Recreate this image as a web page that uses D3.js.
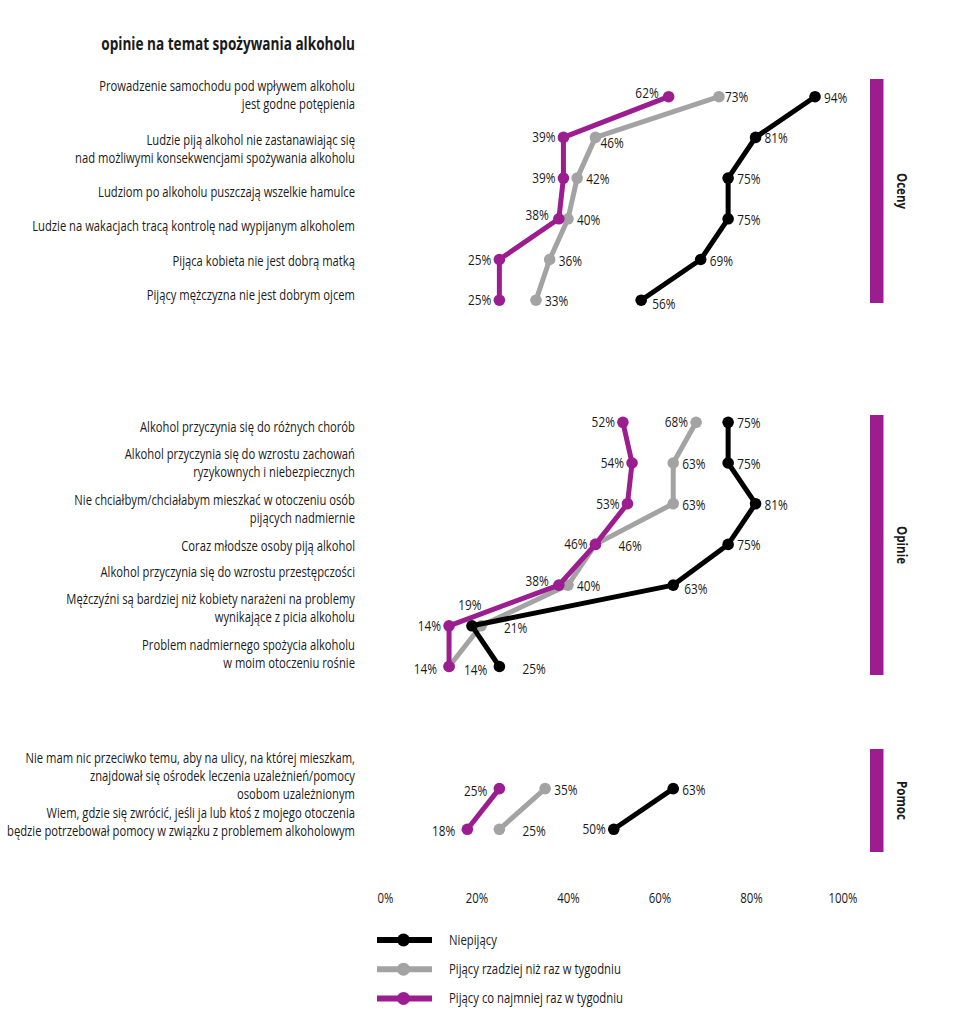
<!DOCTYPE html>
<html><head><meta charset="utf-8">
<script src="https://cdn.jsdelivr.net/npm/d3@7"></script>
<style>
body{margin:0;background:#fff;}
svg text{fill:#1a1a1a;}
</style></head>
<body><div id="chart"></div>
<script>
// ---- data ----
const title = "opinie na temat spożywania alkoholu";
const sections = ["Oceny", "Opinie", "Pomoc"];
const categories = [
  "Prowadzenie samochodu pod wpływem alkoholu\njest godne potępienia",
  "Ludzie piją alkohol nie zastanawiając się\nnad możliwymi konsekwencjami spożywania alkoholu",
  "Ludziom po alkoholu puszczają wszelkie hamulce",
  "Ludzie na wakacjach tracą kontrolę nad wypijanym alkoholem",
  "Pijąca kobieta nie jest dobrą matką",
  "Pijący mężczyzna nie jest dobrym ojcem",
  "Alkohol przyczynia się do różnych chorób",
  "Alkohol przyczynia się do wzrostu zachowań\nryzykownych i niebezpiecznych",
  "Nie chciałbym/chciałabym mieszkać w otoczeniu osób\npijących nadmiernie",
  "Coraz młodsze osoby piją alkohol",
  "Alkohol przyczynia się do wzrostu przestępczości",
  "Mężczyźni są bardziej niż kobiety narażeni na problemy\nwynikające z picia alkoholu",
  "Problem nadmiernego spożycia alkoholu\nw moim otoczeniu rośnie",
  "Nie mam nic przeciwko temu, aby na ulicy, na której mieszkam,\nznajdował się ośrodek leczenia  uzależnień/pomocy\nosobom uzależnionym",
  "Wiem, gdzie się zwrócić, jeśli ja lub ktoś z mojego otoczenia\nbędzie potrzebował pomocy w związku z problemem alkoholowym"
];
const categorySection = ["Oceny","Oceny","Oceny","Oceny","Oceny","Oceny",
  "Opinie","Opinie","Opinie","Opinie","Opinie","Opinie","Opinie","Pomoc","Pomoc"];
const seriesNames = ["Niepijący", "Pijący rzadziej niż raz w tygodniu", "Pijący co najmniej raz w tygodniu"];
const nonDrinkers = [94,81,75,75,69,56, 75,75,81,75,63,19,25, 63,50];
const rareDrinkers = [73,46,42,40,36,33, 68,63,63,46,40,21,14, 35,25];
const weeklyDrinkers = [62,39,39,38,25,25, 52,54,53,46,38,14,14, 25,18];
const xTicks = [0,20,40,60,80,100];

// ---- layout (annotation placement) ----
const nonLabelPos = ["r","r","r","r","r","rd", "r","r","r","r","rd","u","r2", "r","l"];
const rareLabelPos = ["rn","rdn","r","r","r","r", "l","r","r","r2","r","r2","r3", "r","r2"];
const weeklyLabelPos = ["lu","l","l","lu","l","l", "l","l","l","l","lu","l","l2", "l2","l2"];
const labelNudge = [-1,13,15,8,2,-4, 6,1,6,3,-12,-17,-12, -12,-6];

const W = 955, H = 1024;
const FONT = '"Open Sans","Noto Sans",sans-serif';
const colors = ["#000000", "#a3a3a3", "#9c1d90"];
const svg = d3.select("#chart").append("svg").attr("width", W).attr("height", H)
  .style("font-family", FONT);

function measure(str, size, weight) {
  const t = svg.append("text").attr("font-size", size).attr("font-weight", weight).text(str);
  const w = t.node().getComputedTextLength(); t.remove(); return w;
}
const sxLabel = 323 / measure("Ludzie na wakacjach tracą kontrolę nad wypijanym alkoholem", 14, "normal");
const sxTitle = 254 / measure(title, 18, "bold");
const sxData = 23.3 / measure("94%", 14.5, "normal");
const sxLegend = 172 / measure("Pijący rzadziej niż raz w tygodniu", 14, "normal");
const sxSection = 38 / measure("Opinie", 14.5, "bold");

function addText(parent, x, y, str, o) {
  const g = parent.append("g")
    .attr("transform", `translate(${x},${y})${o.rotate ? ` rotate(${o.rotate})` : ""} scale(${o.sx},1)`);
  return g.append("text").attr("x", 0).attr("y", 0)
    .attr("text-anchor", o.anchor || "start").attr("font-size", o.size)
    .attr("font-weight", o.weight || "normal").text(str);
}

const x = d3.scaleLinear().domain([0,100]).range([385, 842.5]);
const rowIndex = categories.map((c,i) => i + 2*sections.indexOf(categorySection[i]));
const y = d3.scaleLinear().domain([0,18]).range([96.7, 829.3]);

// title
addText(svg, 355, 50, title, {sx: sxTitle, size: 18, weight: "bold", anchor: "end"});

// category labels
categories.forEach((c,i) => {
  const lines = c.split("\n");
  const lh = 18;
  const cy = y(rowIndex[i]) + labelNudge[i];
  lines.forEach((ln, k) => {
    addText(svg, 355, cy + (k - (lines.length-1)/2)*lh + 4, ln, {sx: sxLabel, size: 14, anchor: "end"});
  });
});

// section bars
const barExtent = {Oceny:[79,303], Opinie:[415,675], Pomoc:[749,852]};
sections.forEach(s => {
  const [a,b] = barExtent[s];
  svg.append("rect").attr("x", 870).attr("y", a).attr("width", 13.5).attr("height", b-a).attr("fill", colors[2]);
  addText(svg, 897, (a+b)/2, s, {sx: sxSection, size: 14.5, weight: "bold", anchor: "middle", rotate: 90});
});

// axis tick labels
const axisG = svg.append("g").attr("transform","translate(0,903)");
axisG.call(d3.axisBottom(x).tickValues(xTicks).tickFormat(d => d + "%").tickSize(0));
axisG.select(".domain").remove();
axisG.attr("font-family", null);
axisG.selectAll(".tick text").attr("y", 0).attr("dy", 0)
  .attr("font-size", 14).attr("transform", `scale(${sxData},1)`).style("fill", "#1a1a1a");

// series
const offsets = {
  r:[9,1,"start"], rn:[6,0,"start"], rd:[11,4,"start"], rdn:[5,6,"start"],
  r2:[23,2,"start"], r3:[15,3,"start"],
  l:[-8,0,"end"], lu:[-10,-4,"end"], l2:[-12,2,"end"],
  u:[-2,-21,"middle"]
};
const allSeries = [nonDrinkers, rareDrinkers, weeklyDrinkers];
const allPos = [nonLabelPos, rareLabelPos, weeklyLabelPos];
const line = d3.line().x(d => x(d.v)).y(d => y(d.r));

[1,0,2].forEach(si => {
  const vals = allSeries[si];
  const g = svg.append("g");
  sections.forEach(s => {
    const pts = vals.map((v,i) => ({v, r: rowIndex[i], s: categorySection[i]})).filter(d => d.s === s);
    g.append("path").datum(pts).attr("d", line).attr("fill","none")
      .attr("stroke", colors[si]).attr("stroke-width", 5).attr("stroke-linejoin","round");
  });
  g.selectAll("circle").data(vals.map((v,i)=>({v, r: rowIndex[i]}))).join("circle")
    .attr("cx", d => x(d.v)).attr("cy", d => y(d.r)).attr("r", 5.8).attr("fill", colors[si]);
});
[0,1,2].forEach(si => {
  allSeries[si].forEach((v,i) => {
    const o = offsets[allPos[si][i]];
    addText(svg, x(v) + o[0], y(rowIndex[i]) + o[1] + 5, v + "%", {sx: sxData, size: 14.5, anchor: o[2]});
  });
});

// legend
seriesNames.forEach((n,i) => {
  const ly = 940 + i*29.2;
  svg.append("line").attr("x1",377).attr("x2",432).attr("y1",ly).attr("y2",ly)
    .attr("stroke", colors[i]).attr("stroke-width", 6);
  svg.append("circle").attr("cx",403.5).attr("cy",ly).attr("r",6.5).attr("fill",colors[i]);
  addText(svg, 449, ly + 5, n, {sx: sxLegend, size: 14});
});
</script></body></html>
